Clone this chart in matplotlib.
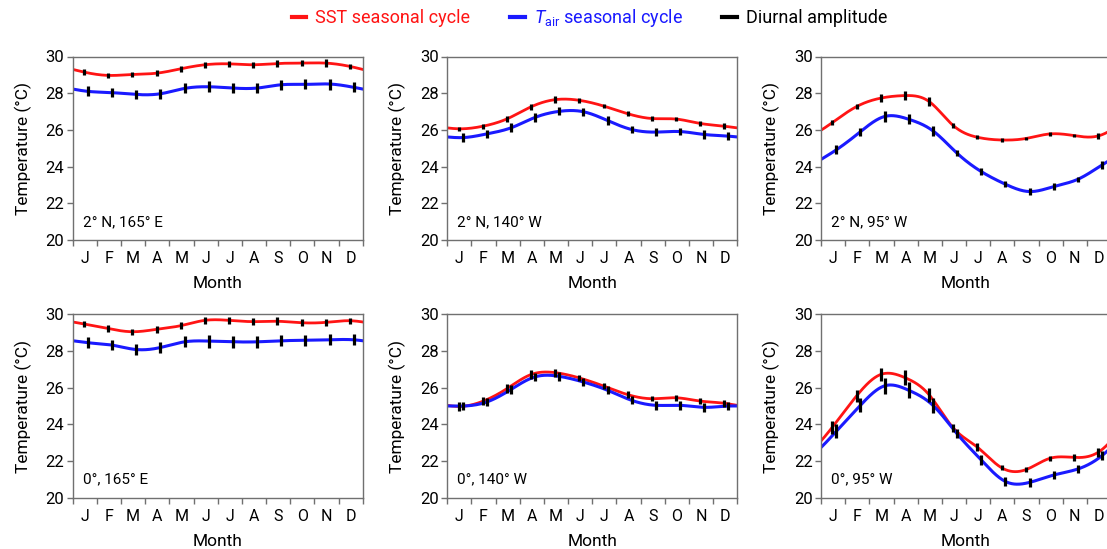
import numpy as np
import matplotlib
matplotlib.use("Agg")
import matplotlib.pyplot as plt
from matplotlib.lines import Line2D

plt.rcParams['font.family'] = ['Roboto', 'DejaVu Sans']
plt.rcParams['mathtext.fontset'] = 'custom'
plt.rcParams['mathtext.rm'] = 'Roboto'
plt.rcParams['mathtext.it'] = 'Roboto:italic'

months = ['J', 'F', 'M', 'A', 'M', 'J', 'J', 'A', 'S', 'O', 'N', 'D']
yticks = [20, 22, 24, 26, 28, 30]
titles = ['2° N, 165° E', '2° N, 140° W', '2° N, 95° W',
          '0°, 165° E', '0°, 140° W', '0°, 95° W']

# monthly SST (°C)
sst_2n165e = [29.15, 28.97, 29.02, 29.09, 29.33, 29.55, 29.60, 29.55, 29.62, 29.64, 29.64, 29.46]
sst_2n140w = [26.06, 26.20, 26.60, 27.26, 27.65, 27.61, 27.30, 26.88, 26.62, 26.59, 26.35, 26.20]
sst_2n95w = [26.40, 27.27, 27.73, 27.87, 27.55, 26.24, 25.60, 25.45, 25.53, 25.78, 25.69, 25.67]
sst_0165e = [29.47, 29.22, 29.05, 29.18, 29.38, 29.67, 29.67, 29.60, 29.62, 29.54, 29.56, 29.65]
sst_0140w = [24.98, 25.26, 25.95, 26.72, 26.82, 26.53, 26.09, 25.62, 25.40, 25.45, 25.27, 25.15]
sst_095w = [23.85, 25.55, 26.72, 26.55, 25.62, 23.81, 22.76, 21.64, 21.53, 22.15, 22.20, 22.48]

# monthly air temperature (°C)
tair_2n165e = [28.10, 28.03, 27.93, 27.97, 28.26, 28.35, 28.28, 28.28, 28.46, 28.48, 28.50, 28.32]
tair_2n140w = [25.58, 25.78, 26.11, 26.68, 27.01, 26.99, 26.51, 26.02, 25.88, 25.91, 25.75, 25.66]
tair_2n95w = [24.91, 25.90, 26.73, 26.58, 25.95, 24.73, 23.73, 23.04, 22.64, 22.91, 23.31, 24.09]
tair_0165e = [28.45, 28.32, 28.08, 28.19, 28.50, 28.54, 28.50, 28.50, 28.56, 28.58, 28.61, 28.61]
tair_0140w = [25.00, 25.22, 25.90, 26.59, 26.62, 26.31, 25.86, 25.31, 25.04, 25.04, 24.93, 25.00]
tair_095w = [23.62, 25.04, 26.10, 25.86, 25.04, 23.49, 22.06, 20.89, 20.84, 21.24, 21.57, 22.30]

# diurnal amplitude (°C)
sst_amp_2n165e = [0.30, 0.30, 0.30, 0.30, 0.30, 0.35, 0.35, 0.35, 0.35, 0.35, 0.40, 0.30]
sst_amp_2n140w = [0.25, 0.25, 0.30, 0.35, 0.35, 0.25, 0.25, 0.25, 0.25, 0.25, 0.30, 0.30]
sst_amp_2n95w = [0.30, 0.30, 0.45, 0.50, 0.50, 0.25, 0.20, 0.20, 0.20, 0.20, 0.20, 0.35]
sst_amp_0165e = [0.35, 0.35, 0.35, 0.40, 0.35, 0.40, 0.40, 0.40, 0.45, 0.40, 0.40, 0.35]
sst_amp_0140w = [0.45, 0.45, 0.45, 0.45, 0.45, 0.35, 0.35, 0.35, 0.30, 0.30, 0.35, 0.35]
sst_amp_095w = [0.70, 0.70, 0.75, 0.80, 0.75, 0.45, 0.40, 0.30, 0.30, 0.30, 0.35, 0.50]

tair_amp_2n165e = [0.55, 0.50, 0.50, 0.55, 0.55, 0.60, 0.55, 0.55, 0.55, 0.55, 0.60, 0.55]
tair_amp_2n140w = [0.45, 0.45, 0.50, 0.45, 0.45, 0.45, 0.45, 0.40, 0.40, 0.40, 0.45, 0.40]
tair_amp_2n95w = [0.50, 0.45, 0.55, 0.55, 0.55, 0.35, 0.35, 0.30, 0.35, 0.35, 0.30, 0.45]
tair_amp_0165e = [0.60, 0.55, 0.55, 0.55, 0.60, 0.70, 0.65, 0.65, 0.60, 0.60, 0.60, 0.60]
tair_amp_0140w = [0.45, 0.45, 0.50, 0.45, 0.50, 0.45, 0.45, 0.45, 0.50, 0.50, 0.50, 0.45]
tair_amp_095w = [0.75, 0.75, 0.85, 0.85, 0.85, 0.50, 0.50, 0.45, 0.45, 0.45, 0.45, 0.50]

panels = [
    (sst_2n165e, tair_2n165e, sst_amp_2n165e, tair_amp_2n165e),
    (sst_2n140w, tair_2n140w, sst_amp_2n140w, tair_amp_2n140w),
    (sst_2n95w, tair_2n95w, sst_amp_2n95w, tair_amp_2n95w),
    (sst_0165e, tair_0165e, sst_amp_0165e, tair_amp_0165e),
    (sst_0140w, tair_0140w, sst_amp_0140w, tair_amp_0140w),
    (sst_095w, tair_095w, sst_amp_095w, tair_amp_095w),
]

RED = '#ff1414'
BLUE = '#1a1aff'
SPINE = '#707070'


def periodic_spline(xk, yk, period, xs):
    xk = np.asarray(xk, float)
    yk = np.asarray(yk, float)
    n = len(xk)
    h = np.diff(np.append(xk, xk[0] + period))
    A = np.zeros((n, n))
    r = np.zeros(n)
    for i in range(n):
        im, ip = (i - 1) % n, (i + 1) % n
        A[i, im] += h[im]
        A[i, i] += 2 * (h[im] + h[i])
        A[i, ip] += h[i]
        r[i] = 6 * ((yk[ip] - yk[i]) / h[i] - (yk[i] - yk[im]) / h[im])
    M = np.linalg.solve(A, r)
    xe = np.append(xk, xk[0] + period)
    ye = np.append(yk, yk[0])
    Me = np.append(M, M[0])
    out = np.empty_like(xs)
    for j, x in enumerate(xs):
        xx = xk[0] + ((x - xk[0]) % period)
        i = min(np.searchsorted(xe, xx, side='right') - 1, n - 1)
        hi = h[i]
        a = (xe[i + 1] - xx) / hi
        b = (xx - xe[i]) / hi
        out[j] = (a * ye[i] + b * ye[i + 1]
                  + ((a ** 3 - a) * Me[i] + (b ** 3 - b) * Me[i + 1]) * hi ** 2 / 6)
    return out


fig = plt.figure(figsize=(11.07, 5.49), dpi=100)
W, H = 1107.0, 549.0
lefts = [72.7, 447.3, 821.0]
width = 290.0
tops = [56.5, 314.3]
height = 183.5

xm = np.arange(12)
x_sst = xm + 0.47
x_air = xm + 0.63
xs = np.linspace(0, 12, 600)

for k, (sst, tair, sa, ta) in enumerate(panels):
    row, col = divmod(k, 3)
    ax = fig.add_axes([lefts[col] / W, 1 - (tops[row] + height) / H, width / W, height / H])
    ys = periodic_spline(x_sst, sst, 12, xs)
    ya = periodic_spline(x_air, tair, 12, xs)
    ax.plot(xs, ys, color=RED, lw=2.0, zorder=2)
    ax.plot(xs, ya, color=BLUE, lw=2.2, zorder=2)
    sst = np.asarray(sst); tair = np.asarray(tair)
    sa = np.asarray(sa); ta = np.asarray(ta)
    ax.vlines(x_sst, sst - sa / 2, sst + sa / 2, color='black', lw=2.3, zorder=3)
    ax.vlines(x_air, tair - ta / 2, tair + ta / 2, color='black', lw=2.3, zorder=3)
    ax.set_xlim(0, 12)
    ax.set_ylim(20, 30)
    ax.set_yticks(yticks)
    ax.set_xticks(np.arange(13))
    ax.set_xticklabels([])
    ax.set_xticks(xm + 0.5, minor=True)
    ax.set_xticklabels(months, minor=True)
    ax.tick_params(axis='x', which='minor', length=0, pad=8, labelsize=11.5)
    ax.tick_params(axis='x', which='major', length=4, width=1, color=SPINE)
    ax.tick_params(axis='y', length=4, width=1, color=SPINE, labelsize=12, pad=2)
    for sp in ax.spines.values():
        sp.set_color(SPINE)
        sp.set_linewidth(1.0)
    ax.set_xlabel('Month', fontsize=12.5, labelpad=7)
    ax.set_ylabel('Temperature (°C)', fontsize=12.5, labelpad=10)
    ax.text(0.035, 0.06, titles[k], transform=ax.transAxes, fontsize=11,
            ha='left', va='bottom')

handles = [Line2D([], [], color=RED, lw=3),
           Line2D([], [], color=BLUE, lw=3),
           Line2D([], [], color='black', lw=3)]
labels = ['SST seasonal cycle', r'$T_{\mathrm{air}}$ seasonal cycle', 'Diurnal amplitude']
leg = fig.legend(handles, labels, loc='center', bbox_to_anchor=(589.5 / W, 1 - 18 / H), ncol=3,
                 frameon=False, fontsize=13, handlelength=0.8, handletextpad=0.5,
                 columnspacing=2.2)
for t, c in zip(leg.get_texts(), [RED, BLUE, 'black']):
    t.set_color(c)

fig.savefig('out.png', dpi=100)
